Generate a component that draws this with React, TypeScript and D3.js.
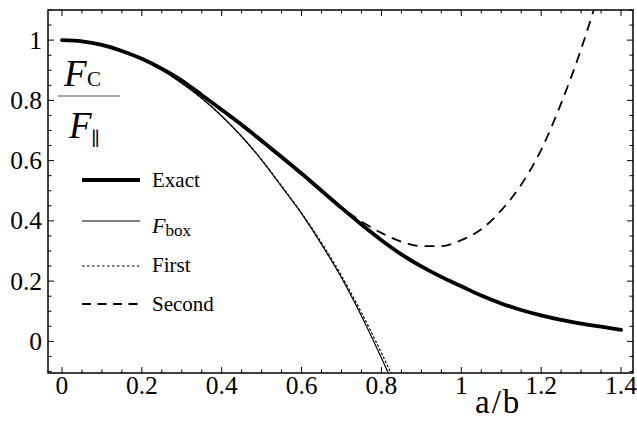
import React from "react";
import * as d3 from "d3";

// ---- data ----
const xGrid = [0, 0.05, 0.1, 0.15, 0.2, 0.25, 0.3, 0.35, 0.4, 0.45, 0.5, 0.55, 0.6, 0.65, 0.7, 0.75, 0.8, 0.85, 0.9, 0.95, 1.0, 1.05, 1.1, 1.15, 1.2, 1.25, 1.3, 1.35, 1.4];
const exactValues = [1.0, 0.996, 0.984, 0.964, 0.938, 0.905, 0.866, 0.818, 0.769, 0.719, 0.666, 0.612, 0.557, 0.5, 0.443, 0.388, 0.336, 0.289, 0.249, 0.214, 0.183, 0.152, 0.126, 0.104, 0.086, 0.071, 0.059, 0.049, 0.038];

const boxX = [0, 0.05, 0.1, 0.15, 0.2, 0.25, 0.3, 0.35, 0.4, 0.45, 0.5, 0.55, 0.6, 0.65, 0.7, 0.75, 0.8, 0.85];
const boxValues = [1.0, 0.996, 0.984, 0.964, 0.936, 0.901, 0.857, 0.807, 0.748, 0.68, 0.602, 0.514, 0.424, 0.322, 0.211, 0.084, -0.055, -0.2];
const firstValues = [1.0, 0.996, 0.984, 0.964, 0.936, 0.901, 0.857, 0.807, 0.748, 0.68, 0.603, 0.516, 0.426, 0.327, 0.218, 0.095, -0.038, -0.18];

const secondX = [0, 0.05, 0.1, 0.15, 0.2, 0.25, 0.3, 0.35, 0.4, 0.45, 0.5, 0.55, 0.6, 0.65, 0.7, 0.75, 0.8, 0.85, 0.9, 0.95, 1.0, 1.05, 1.1, 1.15, 1.2, 1.25, 1.3, 1.35];
const secondValues = [1.0, 0.996, 0.984, 0.964, 0.938, 0.904, 0.864, 0.816, 0.766, 0.715, 0.662, 0.608, 0.554, 0.498, 0.444, 0.398, 0.36, 0.331, 0.316, 0.316, 0.336, 0.372, 0.435, 0.52, 0.636, 0.79, 0.97, 1.18];

const xTickValues = [0, 0.2, 0.4, 0.6, 0.8, 1.0, 1.2, 1.4];
const xTickLabels = ["0", "0.2", "0.4", "0.6", "0.8", "1", "1.2", "1.4"];
const yTickValues = [0, 0.2, 0.4, 0.6, 0.8, 1.0];
const yTickLabels = ["0", "0.2", "0.4", "0.6", "0.8", "1"];
const legendLabels = ["Exact", "F", "First", "Second"];

const W = 637;
const H = 422;
const FONT = "'Liberation Serif', 'DejaVu Serif', serif";

export default function App() {
  const x = d3.scaleLinear().domain([-0.035, 1.43]).range([48, 633]);
  const y = d3.scaleLinear().domain([-0.105, 1.1]).range([373, 10]);
  const [x0, x1] = x.range();
  const [y0, y1] = y.range();

  const line = d3
    .line<[number, number]>()
    .x((d) => x(d[0]))
    .y((d) => y(d[1]))
    .curve(d3.curveMonotoneX);

  const exactPath = line(xGrid.map((v, i) => [v, exactValues[i]]) as [number, number][]) || "";
  const boxPath = line(boxX.map((v, i) => [v, boxValues[i]]) as [number, number][]) || "";
  const firstPath = line(boxX.map((v, i) => [v, firstValues[i]]) as [number, number][]) || "";
  const secondPath = line(secondX.map((v, i) => [v, secondValues[i]]) as [number, number][]) || "";

  const xMinor = d3.range(0, 29).map((i) => i * 0.05).filter((v) => v >= -0.035 && v <= 1.43);
  const yMinor = d3.range(-2, 23).map((i) => i * 0.05).filter((v) => v >= -0.105 && v <= 1.1);
  const isMajor = (v: number) => Math.abs(v / 0.2 - Math.round(v / 0.2)) < 1e-6;

  const tickLenMajor = 6;
  const tickLenMinor = 3.5;

  const legendY = [180, 221, 266, 304];
  const legendTextY = [186.5, 232.5, 272, 310.5];
  const lx0 = 82;
  const lx1 = 140;
  const ltx = 152;

  const textStyle = { fontFamily: FONT };

  return (
    <svg
      width={W}
      height={H}
      viewBox={`0 0 ${W} ${H}`}
      style={{ position: "absolute", left: 0, top: 0, background: "#fff" }}
    >
      <rect x={0} y={0} width={W} height={H} fill="#fff" />
      <defs>
        <clipPath id="plotClip">
          <rect x={x0} y={y1} width={x1 - x0} height={y0 - y1} />
        </clipPath>
      </defs>

      {xMinor.map((v, i) => {
        const L = isMajor(v) ? tickLenMajor : tickLenMinor;
        return (
          <g key={"xt" + i} stroke="#000" strokeWidth={1}>
            <line x1={x(v)} x2={x(v)} y1={y0} y2={y0 - L} />
            <line x1={x(v)} x2={x(v)} y1={y1} y2={y1 + L} />
          </g>
        );
      })}
      {yMinor.map((v, i) => {
        const L = isMajor(v) ? tickLenMajor : tickLenMinor;
        return (
          <g key={"yt" + i} stroke="#000" strokeWidth={1}>
            <line x1={x0} x2={x0 + L} y1={y(v)} y2={y(v)} />
            <line x1={x1} x2={x1 - L} y1={y(v)} y2={y(v)} />
          </g>
        );
      })}

      <g style={textStyle} fill="#000">
        {xTickValues.map((v, i) => (
          <text key={"xl" + i} x={x(v)} y={394} fontSize={25.5} textAnchor="middle">
            {xTickLabels[i]}
          </text>
        ))}
        {yTickValues.map((v, i) => (
          <text key={"yl" + i} x={42} y={y(v) + 8.5} fontSize={25.5} textAnchor="end">
            {yTickLabels[i]}
          </text>
        ))}
      </g>

      <g clipPath="url(#plotClip)" fill="none" stroke="#000">
        <path d={boxPath} strokeWidth={1.2} />
        <path d={firstPath} strokeWidth={1.2} strokeDasharray="2.5,2" />
        <path d={secondPath} strokeWidth={1.8} strokeDasharray="10,7" />
        <path d={exactPath} strokeWidth={3.8} strokeLinecap="round" />
      </g>

      <rect x={x0} y={y1} width={x1 - x0} height={y0 - y1} fill="none" stroke="#000" strokeWidth={1.5} />

      <g style={textStyle} fill="#000">
        <text x={64} y={86} fontSize={37} fontStyle="italic">F</text>
        <text x={87} y={86} fontSize={21}>C</text>
        <text x={69} y={138} fontSize={37} fontStyle="italic">F</text>
        <text x={91} y={145} fontSize={19}>∥</text>
        <text x={475} y={413} fontSize={33} letterSpacing={2}>a/b</text>
        <text x={ltx} y={legendTextY[0]} fontSize={21}>{legendLabels[0]}</text>
        <text x={ltx} y={legendTextY[1]} fontSize={21}>
          <tspan fontStyle="italic" fontSize={22}>{legendLabels[1]}</tspan>
          <tspan fontSize={17} dy={3}>box</tspan>
        </text>
        <text x={ltx} y={legendTextY[2]} fontSize={21}>{legendLabels[2]}</text>
        <text x={ltx} y={legendTextY[3]} fontSize={21}>{legendLabels[3]}</text>
      </g>
      <line x1={58} x2={120} y1={96} y2={96} stroke="#888" strokeWidth={1.3} />

      <line x1={lx0} x2={lx1} y1={legendY[0]} y2={legendY[0]} stroke="#000" strokeWidth={3.8} />
      <line x1={lx0} x2={lx1} y1={legendY[1]} y2={legendY[1]} stroke="#000" strokeWidth={1.2} />
      <line x1={lx0} x2={lx1} y1={legendY[2]} y2={legendY[2]} stroke="#000" strokeWidth={1.2} strokeDasharray="2.5,2.5" />
      <line x1={lx0} x2={lx1} y1={legendY[3]} y2={legendY[3]} stroke="#000" strokeWidth={1.8} strokeDasharray="9,6.5" />
    </svg>
  );
}
